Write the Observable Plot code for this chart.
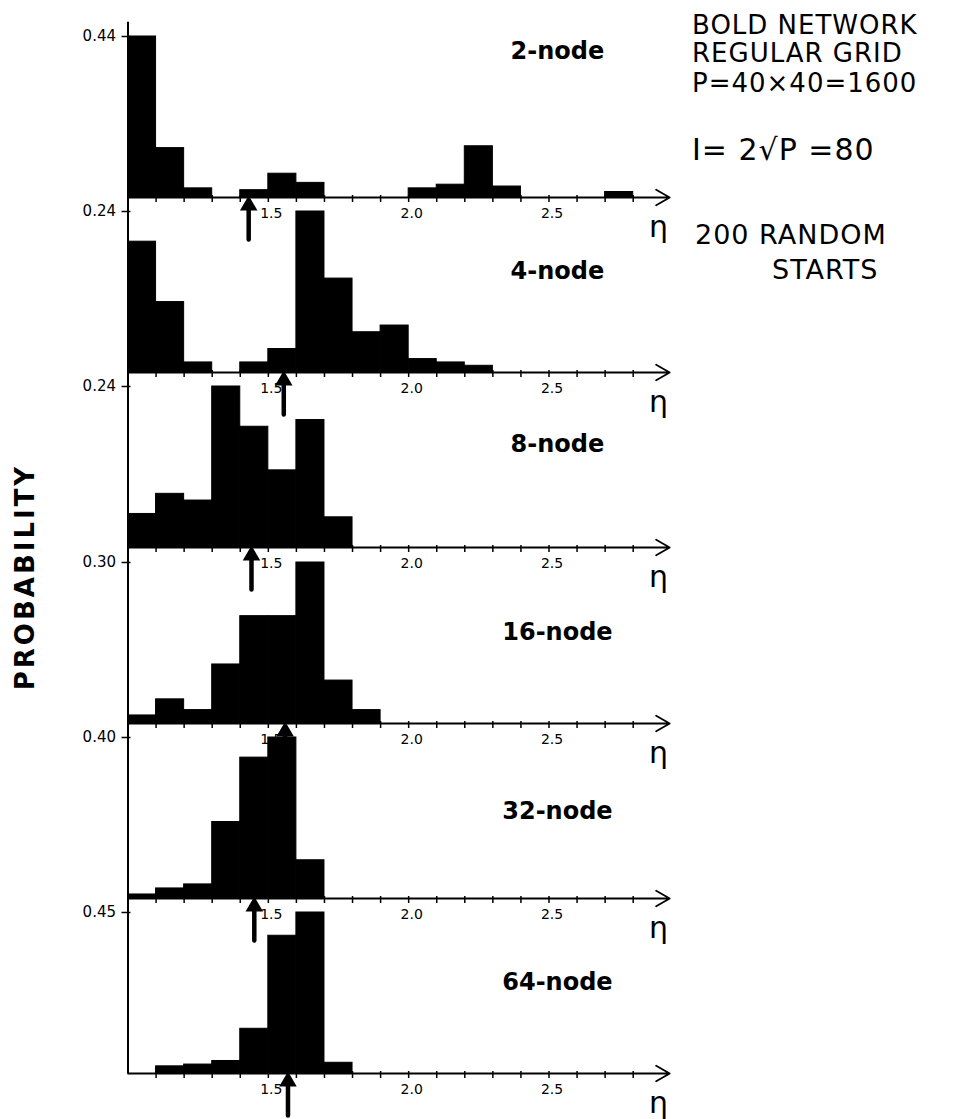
<!DOCTYPE html>
<html><head><meta charset="utf-8">
<script src="https://cdn.jsdelivr.net/npm/d3@7"></script>
<script src="https://cdn.jsdelivr.net/npm/@observablehq/plot@0.6"></script>
<style>
body{margin:0;background:#fff;}
#page{position:relative;width:962px;height:1119px;overflow:hidden;font-family:"DejaVu Sans",sans-serif;color:#000;}
.panel{position:absolute;left:0;}
.note{position:absolute;font-size:25px;line-height:1;white-space:nowrap;letter-spacing:1px;}
#ylab{position:absolute;left:25px;top:577px;transform:translate(-50%,-50%) rotate(-90deg);font-weight:bold;font-size:26px;letter-spacing:3px;white-space:nowrap;}
</style></head><body><div id="page"></div>
<script>
// ---- data ----
const binStarts = [1.0,1.1,1.2,1.3,1.4,1.5,1.6,1.7,1.8,1.9,2.0,2.1,2.2,2.3,2.4,2.5,2.6,2.7];
const binWidth = 0.1;
const panelNames = ["2-node","4-node","8-node","16-node","32-node","64-node"];
const panelMax = [0.44, 0.24, 0.24, 0.30, 0.40, 0.45];
const prob2node  = [0.44, 0.135, 0.025, 0, 0.02, 0.065, 0.04, 0, 0, 0, 0.025, 0.035, 0.14, 0.03, 0, 0, 0, 0.015];
const prob4node  = [0.195, 0.105, 0.015, 0, 0.015, 0.035, 0.24, 0.14, 0.06, 0.07, 0.02, 0.015, 0.01, 0, 0, 0, 0, 0];
const prob8node  = [0.05, 0.08, 0.07, 0.24, 0.18, 0.115, 0.19, 0.045, 0, 0, 0, 0, 0, 0, 0, 0, 0, 0];
const prob16node = [0.015, 0.045, 0.025, 0.11, 0.20, 0.20, 0.30, 0.08, 0.025, 0, 0, 0, 0, 0, 0, 0, 0, 0];
const prob32node = [0.01, 0.025, 0.035, 0.19, 0.35, 0.40, 0.095, 0, 0, 0, 0, 0, 0, 0, 0, 0, 0, 0];
const prob64node = [0, 0.02, 0.025, 0.035, 0.125, 0.385, 0.45, 0.03, 0, 0, 0, 0, 0, 0, 0, 0, 0, 0];
const arrowEta = [1.43, 1.555, 1.44, 1.56, 1.45, 1.57];
const xTickValues = [1.1,1.2,1.3,1.4,1.5,1.6,1.7,1.8,1.9,2.0,2.1,2.2,2.3,2.4,2.5,2.6,2.7,2.8];
const xLabelValues = [1.5, 2.0, 2.5];
const notes = ["BOLD NETWORK","REGULAR GRID","P=40×40=1600","I= 2√P =80","200 RANDOM","STARTS"];

// ---- layout ----
const series = [prob2node, prob4node, prob8node, prob16node, prob32node, prob64node];
const labelFrac = [0.91, 0.63, 0.64, 0.565, 0.54, 0.565];
const plotH = 161, mTop = 16, mBottom = 56, mLeft = 127.5, mRight = 67.3, W = 700;
const base0 = 197, step = 175.2;
const page = document.getElementById("page");
const fmt1 = d3.format(".1f"), fmt2 = d3.format(".2f");

series.forEach((vals, i) => {
  const max = panelMax[i];
  const bars = binStarts.map((b, j) => ({x1: b, x2: +(b + binWidth).toFixed(2), p: vals[j]})).filter(d => d.p > 0);
  const chart = Plot.plot({
    width: W, height: mTop + plotH + mBottom,
    marginTop: mTop, marginBottom: mBottom, marginLeft: mLeft, marginRight: mRight,
    style: "background:transparent;overflow:visible;font-family:'DejaVu Sans',sans-serif;color:black;",
    x: {domain: [1.0, 2.8]},
    y: {domain: [0, max]},
    marks: [
      Plot.rectY(bars, {x1: "x1", x2: "x2", y: "p", fill: "black", stroke: "black", strokeWidth: 1}),
      Plot.ruleX([1.0], {y1: 0, y2: max * step / plotH, stroke: "black", strokeWidth: 2}),
      Plot.arrow([0], {x1: 1.0, x2: 2.93, y1: 0, y2: 0, stroke: "black", strokeWidth: 1.8, headLength: 13, headAngle: 60}),
      Plot.axisX({ticks: xTickValues, tickFormat: () => "", tickSize: 7, dy: -2, strokeWidth: 1.5, label: null}),
      Plot.text(xLabelValues, {x: d => d, y: 0, text: d => fmt1(d), dx: 3, dy: 16, fontSize: 14}),
      Plot.axisY({ticks: [max], tickFormat: () => "", tickSize: 9, dx: 3, strokeWidth: 1.5, label: null}),
      Plot.text([max], {x: 1.0, y: d => d, text: d => fmt2(d), dx: -12, textAnchor: "end", fontSize: 15}),
      Plot.vector([arrowEta[i]], {x: d => d, y: 0, length: 36, anchor: "end", rotate: 0, stroke: "black", strokeWidth: 4.5, r: 0.8, dy: 6}),
      Plot.dot([arrowEta[i]], {x: d => d, y: 0, symbol: "triangle", r: 6.5, fill: "black", dy: 8}),
      Plot.text(["η"], {x: 2.89, y: 0, dy: 30, fontSize: 30, text: d => d}),
      Plot.text([panelNames[i]], {x: 2.53, y: max * labelFrac[i], text: d => d, fontSize: 24, fontWeight: "bold"})
    ]
  });
  chart.classList.add("panel");
  chart.style.top = (base0 + i * step - plotH - mTop) + "px";
  page.appendChild(chart);
});

// ---- text annotations ----
const notePos = [[692, 12, 26], [692, 40, 26], [692, 70, 26], [692, 135, 30], [695, 221, 27], [772, 256, 27]];
notes.forEach((t, k) => {
  const d = document.createElement("div");
  d.className = "note";
  d.textContent = t;
  d.style.left = notePos[k][0] + "px";
  d.style.top = notePos[k][1] + "px";
  d.style.fontSize = notePos[k][2] + "px";
  page.appendChild(d);
});
const yl = document.createElement("div");
yl.id = "ylab";
yl.textContent = "PROBABILITY";
page.appendChild(yl);
</script></body></html>
